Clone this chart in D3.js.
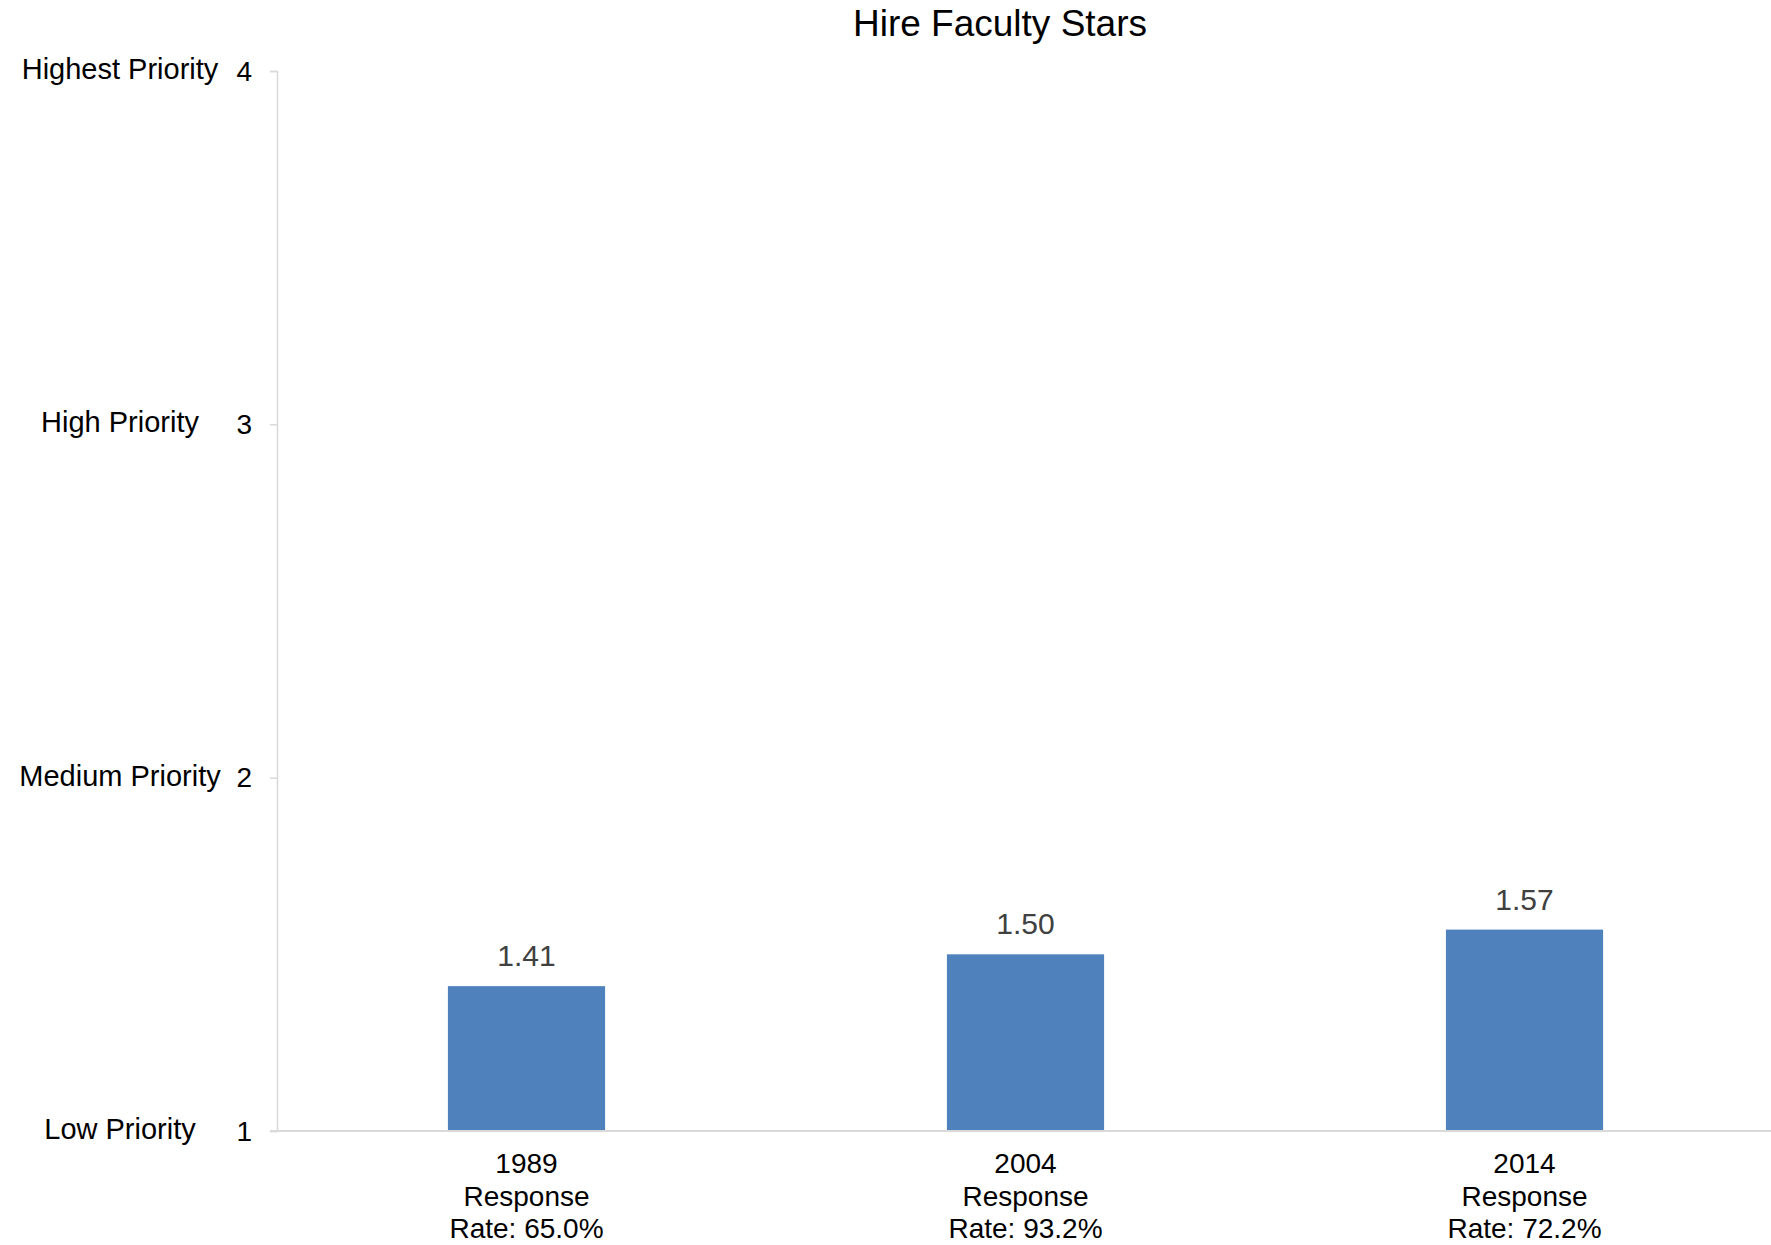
<!DOCTYPE html>
<html>
<head>
<meta charset="utf-8">
<script src="https://cdn.jsdelivr.net/npm/d3@7"></script>
<style>
  html, body { margin: 0; padding: 0; background: #fff; }
  svg { display: block; font-family: "Liberation Sans", Arial, sans-serif; }
</style>
</head>
<body>
<svg id="chart" width="1771" height="1245"></svg>
<script>
const title = "Hire Faculty Stars";
const categories = ["1989", "2004", "2014"];
const categoryLines = [
  ["1989", "Response", "Rate: 65.0%"],
  ["2004", "Response", "Rate: 93.2%"],
  ["2014", "Response", "Rate: 72.2%"]
];
const values = [1.41, 1.50, 1.57];
const yTicks = [1, 2, 3, 4];
const yTickNames = ["Low Priority", "Medium Priority", "High Priority", "Highest Priority"];

const svg = d3.select("#chart");
const W = 1771, H = 1245;
const margin = { left: 277, right: -3, top: 71, bottom: 114 };

const x = d3.scaleBand()
  .domain(categories)
  .range([margin.left, W - margin.right])
  .paddingInner(0.685)
  .paddingOuter(0.3425);

const y = d3.scaleLinear()
  .domain([1, 4])
  .range([H - margin.bottom, margin.top]);

const axisColor = "#d9d9d9";

// Title
svg.append("text")
  .attr("x", 1000)
  .attr("y", 36)
  .attr("text-anchor", "middle")
  .attr("font-size", 37)
  .attr("fill", "#000")
  .text(title);

// Y axis
const yAxis = d3.axisLeft(y).tickValues(yTicks).tickSize(7).tickFormat(d3.format("d")).tickPadding(18);
const gy = svg.append("g").attr("transform", `translate(${margin.left},0)`).call(yAxis);
gy.select(".domain").attr("stroke", axisColor).attr("stroke-width", 1.5);
gy.selectAll(".tick line").attr("stroke", axisColor).attr("stroke-width", 1.5);
gy.selectAll(".tick text")
  .attr("font-size", 28)
  .attr("fill", "#000")
  .attr("font-family", "Liberation Sans, Arial, sans-serif")
  .attr("dy", "0.33em");

// Y tick names
svg.append("g").selectAll("text")
  .data(yTicks)
  .join("text")
  .attr("x", 120)
  .attr("y", d => y(d))
  .attr("dy", "0.28em")
  .attr("text-anchor", "middle")
  .attr("font-size", 29)
  .attr("fill", "#000")
  .text((d, i) => yTickNames[i]);

// Bars
svg.append("g").selectAll("rect")
  .data(values)
  .join("rect")
  .attr("x", (d, i) => x(categories[i]))
  .attr("width", x.bandwidth())
  .attr("y", d => y(d))
  .attr("height", d => y(1) - y(d))
  .attr("fill", "#4f81bd");

// X axis line
svg.append("line")
  .attr("x1", margin.left - 7)
  .attr("x2", W)
  .attr("y1", y(1))
  .attr("y2", y(1))
  .attr("stroke", axisColor)
  .attr("stroke-width", 2);

// Value labels
svg.append("g").selectAll("text")
  .data(values)
  .join("text")
  .attr("x", (d, i) => x(categories[i]) + x.bandwidth() / 2)
  .attr("y", d => y(d) - 20)
  .attr("text-anchor", "middle")
  .attr("font-size", 30)
  .attr("fill", "#404040")
  .text(d => d3.format(".2f")(d));

// Category labels
const cl = svg.append("g").selectAll("text")
  .data(categoryLines)
  .join("text")
  .attr("x", (d, i) => x(categories[i]) + x.bandwidth() / 2)
  .attr("y", y(1) + 42)
  .attr("text-anchor", "middle")
  .attr("font-size", 28)
  .attr("fill", "#000");
cl.selectAll("tspan")
  .data(d => d)
  .join("tspan")
  .attr("x", function() { return d3.select(this.parentNode).attr("x"); })
  .attr("dy", (d, i) => i === 0 ? 0 : 32.5)
  .text(d => d);
</script>
</body>
</html>
